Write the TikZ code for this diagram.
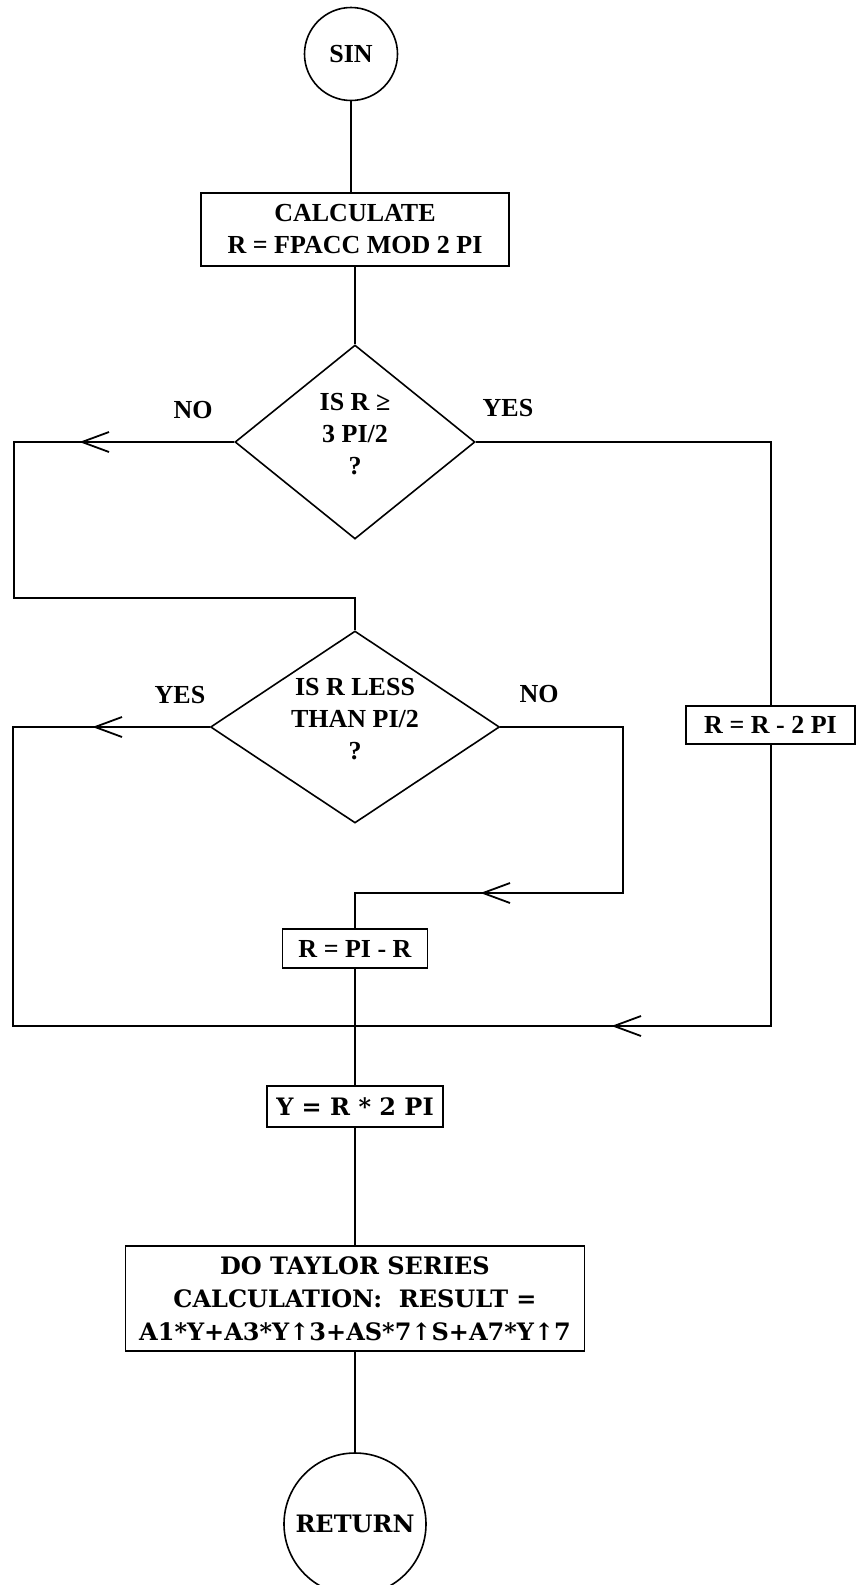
\documentclass[tikz,border=0pt]{standalone}
\usepackage{fontspec}
\setmainfont{Liberation Serif}
\newfontfamily\dvs{DejaVu Serif}
\usetikzlibrary{shapes.geometric}
\newcommand{\tfont}{\fontsize{26}{32}\selectfont\bfseries}
\newcommand{\dfont}{\dvs\fontsize{24}{33}\selectfont\bfseries}
\newcommand{\zbox}[1]{\makebox[0pt]{\smash{\begin{tabular}{@{}c@{}}#1\end{tabular}}}}
\tikzset{
  flow/.style={line width=1.8pt},
  procbox/.style={draw, rectangle, line width=1.6pt, inner sep=0pt, align=center},
  term/.style={draw, circle, line width=1.6pt, inner sep=0pt},
  dia/.style={draw, diamond, line width=1.6pt, inner sep=0pt, font=\tfont},
  lab/.style={inner sep=0pt, font=\tfont},
  larr/.pic={\draw[line width=1.8pt] (27,-10) -- (0,0) -- (27,10);}
}
\begin{document}
\begin{tikzpicture}[x=1pt, y=-1pt]
\useasboundingbox[fill=white] (0,0) rectangle (856,1585);

% nodes
\node[term, minimum size=93pt, font=\tfont] (sin) at (351,54) {SIN};
\node[procbox, minimum width=308pt, minimum height=73pt, font=\tfont] (calc) at (355,229.5) {CALCULATE\\R = FPACC MOD 2 PI};
\node[dia, minimum width=240pt, minimum height=194pt] (d1) at (355,442) {\zbox{IS R ≥\\3 PI/2\\?}};
\node[dia, minimum width=289pt, minimum height=192pt] (d2) at (355,727) {\zbox{IS R LESS\\THAN PI/2\\?}};
\node[procbox, minimum width=169pt, minimum height=38pt, font=\tfont] (rr2) at (770.5,725) {R = R - 2 PI};
\node[procbox, minimum width=145pt, minimum height=39pt, font=\tfont] (rpr) at (355,948.5) {R = PI - R};
\node[procbox, minimum width=176pt, minimum height=41pt, font=\dfont] (ybox) at (355,1106.5) {Y = R * 2 PI};
\node[procbox, minimum width=459pt, minimum height=105pt, font=\dfont] (tay) at (355,1298.5) {DO TAYLOR SERIES\\CALCULATION:\ \ RESULT =\\A1*Y+A3*Y↑3+AS*7↑S+A7*Y↑7};
\node[term, minimum size=142pt, font=\dfont] (ret) at (355,1524) {RETURN};

% labels
\node[lab] (no1) at (193,410) {NO};
\node[lab] (yes1) at (508,408) {YES};
\node[lab] (yes2) at (180,695) {YES};
\node[lab] (no2) at (539,694) {NO};

% junction coordinates
\coordinate (j1) at (355,598);
\coordinate (jb) at (355,1026);

% connectors
\draw[flow] (sin.south) -- (sin.south |- calc.north);
\draw[flow] (calc.south) -- (d1.north);
\draw[flow] (d1.west) -- (14,442) -- (14,598) -- (j1) -- (d2.north);
\draw[flow] (d1.east) -- (771,442) -- (rr2.north -| 771,0);
\draw[flow] (d2.west) -- (13,727) -- (13,1026) -- (jb);
\draw[flow] (d2.east) -- (623,727) -- (623,893) -- (355,893) -- (rpr.north);
\draw[flow] (rr2.south -| 771,0) -- (771,1026) -- (jb);
\draw[flow] (rpr.south) -- (ybox.north);
\draw[flow] (ybox.south) -- (tay.north);
\draw[flow] (tay.south) -- (ret.north);

% arrow marks
\pic at (82,442) {larr};
\pic at (95,727) {larr};
\pic at (483,893) {larr};
\pic at (614,1026) {larr};
\end{tikzpicture}
\end{document}
